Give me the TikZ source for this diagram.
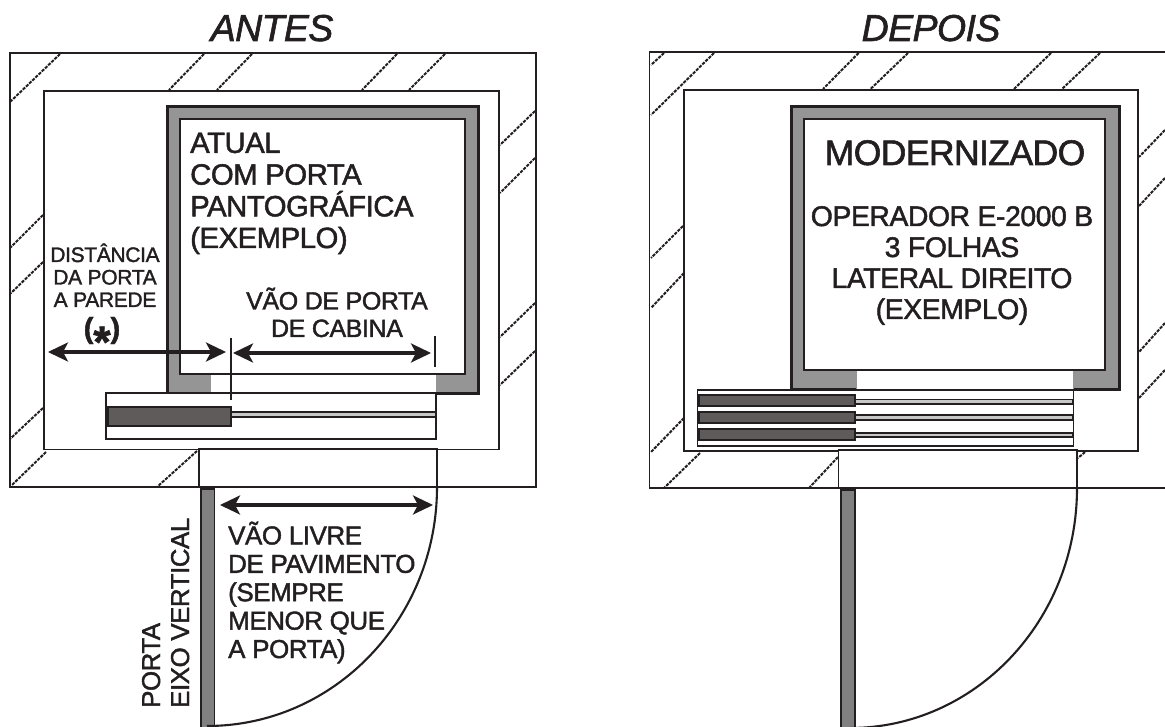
\documentclass[tikz,border=0pt]{standalone}
\usepackage{fontspec}
\setmainfont[FakeBold=1.6,LetterSpace=-1.6]{Liberation Sans}
\usetikzlibrary{arrows.meta}
\definecolor{ink}{HTML}{231F20}
\definecolor{carbody}{HTML}{959595}
\definecolor{panelgray}{HTML}{5F5B5A}
\definecolor{leafgray}{HTML}{808080}
\definecolor{railgray}{HTML}{C8C8C8}
\tikzset{
  wall/.style={draw=ink,line width=1.7pt,fill=white},
  hatch/.style={draw=ink,line width=2pt,dash pattern=on 3.2pt off 1.2pt},
  carout/.style={draw=ink,line width=3pt,fill=carbody},
  carin/.style={draw=ink,line width=2.8pt,fill=white},
  thinbox/.style={draw=ink,line width=1.6pt,fill=white},
  panel/.style={draw=ink,line width=2.2pt,fill=panelgray},
  leaf/.style={draw=ink,line width=1.9pt,fill=leafgray},
  rail/.style={draw=ink,line width=1.7pt,fill=railgray},
  swing/.style={draw=ink,line width=2.1pt},
  tick/.style={draw=ink,line width=2pt},
  dim/.style={draw=ink,line width=3.2pt,{Stealth[length=20pt,width=19pt,inset=5pt]}-{Stealth[length=20pt,width=19pt,inset=5pt]}},
  txt/.style={inner sep=0pt,text=ink},
}
\begin{document}
\begin{tikzpicture}[x=1pt,y=-1pt]
\path[use as bounding box,fill=white] (0,0) rectangle (1165,727);

%% ANTES
\node[txt,anchor=base,font=\fontsize{37.5}{40}\selectfont\itshape] (titleA) at (272,41) {ANTES};
\draw[wall] (10,53) rectangle (536,487);
\foreach \a/\b/\c/\d in {60/54/10/102, 204/54/169/90, 252/54/217/90, 397/54/362/90, 445/54/409/90,
  43/215/10/248, 43/262/10/294, 43/408/10/439, 46/452/12/485, 197/451/157/487,
  535/111/500/145, 535/158/500/193, 535/303/500/337, 535/351/500/385}
  \draw[hatch] (\a,\b) -- (\c,\d);
\draw[wall] (44,91) rectangle (499,449.5);
\draw[carout] (167,107) rectangle (478,393);
\fill[white] (210,374) rectangle (436,395);
\draw[draw=carbody,line width=.8pt] (210,375) -- (210,392) (436,375) -- (436,392);
\draw[carin] (180,119) rectangle (465,374);
\draw[thinbox] (106,393) rectangle (436,439);
\draw[rail] (231,411.7) rectangle (436,416.7);
\draw[panel] (108,407) rectangle (231,425.7);
\draw[tick] (231,338) -- (231,400);
\draw[tick] (435,336) -- (435,367);
\coordinate (dA1) at (48,352); \coordinate (dA2) at (226,352);
\coordinate (dB1) at (233,353); \coordinate (dB2) at (431,353);
\draw[dim] (dA1) -- (dA2);
\draw[dim] (dB1) -- (dB2);
\draw[thinbox] (199,449) rectangle (437,487);
\draw[leaf] (201,489) rectangle (214.5,729);
\draw[swing] (437,487) .. controls (437,619) and (334,726) .. (207,726);
\coordinate (dC1) at (220,505); \coordinate (dC2) at (433,505);
\draw[dim] (dC1) -- (dC2);

\node[txt,anchor=base west,align=left,font=\fontsize{29.3}{31.7}\selectfont] (atual) at (190,248)
  {ATUAL\\COM PORTA\\PANTOGRÁFICA\\(EXEMPLO)};
\node[txt,anchor=base,align=center,font=\fontsize{21}{22.5}\selectfont] (dist) at (105,307)
  {DISTÂNCIA\\DA PORTA\\A PAREDE};
\node[txt,anchor=base,font=\fontsize{29}{30}\selectfont\bfseries] (star) at (102,338) {(\raisebox{-19pt}{\fontsize{44}{44}\selectfont *})};
\node[txt,anchor=base,align=center,font=\fontsize{25}{27.5}\selectfont] (vao) at (337,337)
  {VÃO DE PORTA\\DE CABINA};
\node[txt,anchor=base west,align=left,font=\fontsize{25.9}{28.4}\selectfont] (livre) at (228,658)
  {VÃO LIVRE\\DE PAVIMENTO\\(SEMPRE\\MENOR QUE\\A PORTA)};
\node[txt,anchor=base west,align=left,rotate=90,font=\fontsize{25.8}{29}\selectfont] (eixo) at (189,708)
  {PORTA\\EIXO VERTICAL};

%% DEPOIS
\node[txt,anchor=base,font=\fontsize{37.5}{40}\selectfont\itshape] (titleB) at (931,41) {DEPOIS};
\draw[draw=ink,line width=1.7pt] (1170,52) -- (649.5,52) -- (649.5,488) -- (1170,488);
\foreach \a/\b/\c/\d in {664/53/651/65, 714/53/651/115, 858.6/53/823/89, 908/53/870.5/89, 1051/53/1014/89, 1100/53/1062/89,
  683/226/651/258, 684/273/651/308, 684/418/651/452, 700/453/664/488, 838/457/809/488, 1085/452/1078/458,
  1165/130/1139/157, 1165/178/1139/206, 1165/323/1139/352, 1165/370/1139/398}
  \draw[hatch] (\a,\b) -- (\c,\d);
\draw[wall,fill=none] (684,90) rectangle (1138,451);
\draw[carout] (791,107) rectangle (1119,389);
\fill[white] (856,370) rectangle (1073,391);
\draw[draw=carbody,line width=.8pt] (856,371) -- (856,389) (1073,371) -- (1073,389);
\draw[carin] (804,119) rectangle (1105,370);
\draw[thinbox] (697.5,390) rectangle (1073.5,446);
\draw[rail] (855,399.5) rectangle (1073,404);
\draw[rail] (855,415) rectangle (1073,420);
\draw[rail] (855,433) rectangle (1073,437);
\draw[panel] (699,395) rectangle (855,406);
\draw[panel] (699,412) rectangle (855,423);
\draw[panel] (699,429) rectangle (855,440);
\draw[thinbox] (838.5,450) rectangle (1077,488);
\draw[leaf] (841,490) rectangle (855,729);
\draw[swing] (1077,488) .. controls (1077,621) and (975,728) .. (850,728);

\node[txt,anchor=base,font=\fontsize{35.5}{38}\selectfont] (modern) at (955,165) {MODERNIZADO};
\node[txt,anchor=base,align=center,font=\fontsize{28.4}{31}\selectfont] (oper) at (952,319)
  {OPERADOR E-2000 B\\3 FOLHAS\\LATERAL DIREITO\\(EXEMPLO)};
\end{tikzpicture}
\end{document}
